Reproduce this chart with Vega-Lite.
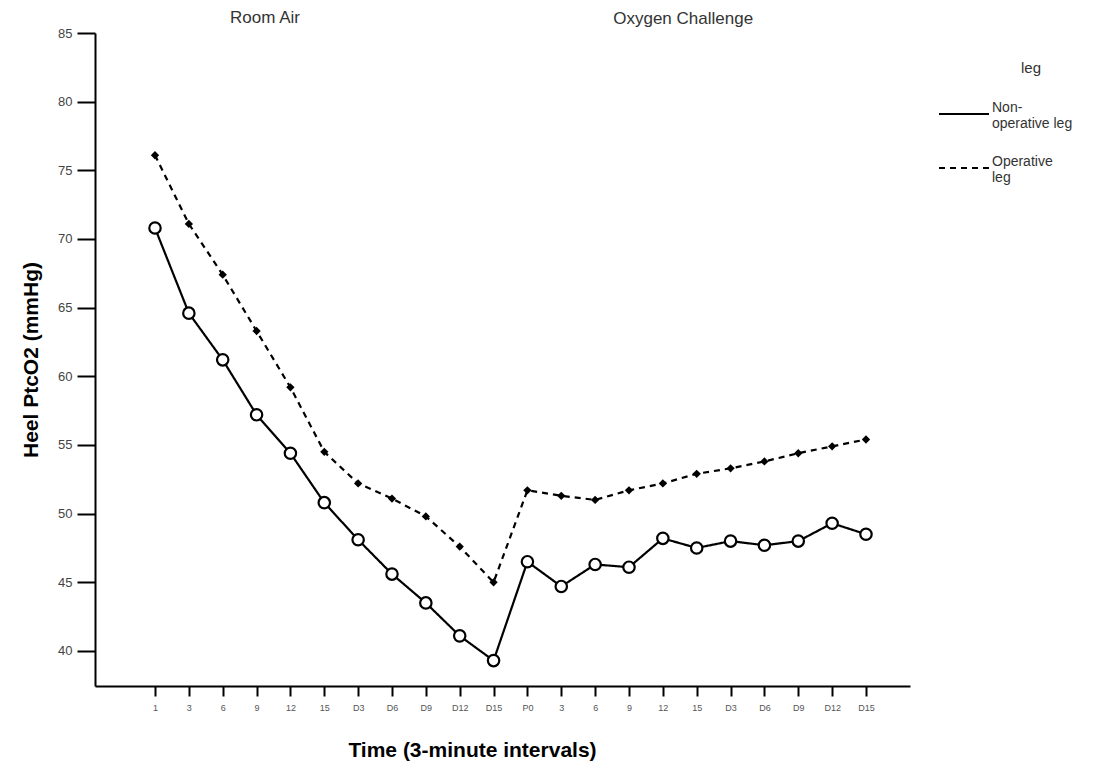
{
  "$schema": "https://vega.github.io/schema/vega-lite/v6.json",
  "autosize": {"type": "none"},
  "width": 815,
  "height": 653,
  "padding": {"left": 95, "top": 33, "right": 206, "bottom": 85},
  "background": "white",
  "config": {
    "view": {"stroke": null},
    "font": "Liberation Sans",
    "axis": {"grid": false, "domainColor": "black", "domainWidth": 2, "tickColor": "black", "tickWidth": 2}
  },
  "datasets": {
    "readings": [
      {"step": 1, "leg": "Non-operative leg", "ptco2": 70.8},
      {"step": 2, "leg": "Non-operative leg", "ptco2": 64.6},
      {"step": 3, "leg": "Non-operative leg", "ptco2": 61.2},
      {"step": 4, "leg": "Non-operative leg", "ptco2": 57.2},
      {"step": 5, "leg": "Non-operative leg", "ptco2": 54.4},
      {"step": 6, "leg": "Non-operative leg", "ptco2": 50.8},
      {"step": 7, "leg": "Non-operative leg", "ptco2": 48.1},
      {"step": 8, "leg": "Non-operative leg", "ptco2": 45.6},
      {"step": 9, "leg": "Non-operative leg", "ptco2": 43.5},
      {"step": 10, "leg": "Non-operative leg", "ptco2": 41.1},
      {"step": 11, "leg": "Non-operative leg", "ptco2": 39.3},
      {"step": 12, "leg": "Non-operative leg", "ptco2": 46.5},
      {"step": 13, "leg": "Non-operative leg", "ptco2": 44.7},
      {"step": 14, "leg": "Non-operative leg", "ptco2": 46.3},
      {"step": 15, "leg": "Non-operative leg", "ptco2": 46.1},
      {"step": 16, "leg": "Non-operative leg", "ptco2": 48.2},
      {"step": 17, "leg": "Non-operative leg", "ptco2": 47.5},
      {"step": 18, "leg": "Non-operative leg", "ptco2": 48.0},
      {"step": 19, "leg": "Non-operative leg", "ptco2": 47.7},
      {"step": 20, "leg": "Non-operative leg", "ptco2": 48.0},
      {"step": 21, "leg": "Non-operative leg", "ptco2": 49.3},
      {"step": 22, "leg": "Non-operative leg", "ptco2": 48.5},
      {"step": 1, "leg": "Operative leg", "ptco2": 76.1},
      {"step": 2, "leg": "Operative leg", "ptco2": 71.1},
      {"step": 3, "leg": "Operative leg", "ptco2": 67.4},
      {"step": 4, "leg": "Operative leg", "ptco2": 63.3},
      {"step": 5, "leg": "Operative leg", "ptco2": 59.2},
      {"step": 6, "leg": "Operative leg", "ptco2": 54.5},
      {"step": 7, "leg": "Operative leg", "ptco2": 52.2},
      {"step": 8, "leg": "Operative leg", "ptco2": 51.1},
      {"step": 9, "leg": "Operative leg", "ptco2": 49.8},
      {"step": 10, "leg": "Operative leg", "ptco2": 47.6},
      {"step": 11, "leg": "Operative leg", "ptco2": 45.0},
      {"step": 12, "leg": "Operative leg", "ptco2": 51.7},
      {"step": 13, "leg": "Operative leg", "ptco2": 51.3},
      {"step": 14, "leg": "Operative leg", "ptco2": 51.0},
      {"step": 15, "leg": "Operative leg", "ptco2": 51.7},
      {"step": 16, "leg": "Operative leg", "ptco2": 52.2},
      {"step": 17, "leg": "Operative leg", "ptco2": 52.9},
      {"step": 18, "leg": "Operative leg", "ptco2": 53.3},
      {"step": 19, "leg": "Operative leg", "ptco2": 53.8},
      {"step": 20, "leg": "Operative leg", "ptco2": 54.4},
      {"step": 21, "leg": "Operative leg", "ptco2": 54.9},
      {"step": 22, "leg": "Operative leg", "ptco2": 55.4}
    ],
    "phases": [
      {"step": 4.25, "ptco2": 86.1, "phase": "Room Air"},
      {"step": 16.6, "ptco2": 86.0, "phase": "Oxygen Challenge"}
    ]
  },
  "data": {"name": "readings"},
  "encoding": {
    "x": {
      "field": "step",
      "type": "quantitative",
      "scale": {"domain": [-0.772, 23.3], "nice": false, "zero": false},
      "axis": {
        "title": "Time (3-minute intervals)",
        "titleFont": "Liberation Sans",
        "titleFontSize": 21,
        "titleFontWeight": "bold",
        "titleColor": "black",
        "titleX": 377,
        "titlePadding": 27,
        "values": [1, 2, 3, 4, 5, 6, 7, 8, 9, 10, 11, 12, 13, 14, 15, 16, 17, 18, 19, 20, 21, 22],
        "labelExpr": "['1','3','6','9','12','15','D3','D6','D9','D12','D15','P0','3','6','9','12','15','D3','D6','D9','D12','D15'][datum.value - 1]",
        "labelFontSize": 9,
        "labelColor": "#555555",
        "labelPadding": 7,
        "tickSize": 10
      }
    },
    "y": {
      "field": "ptco2",
      "type": "quantitative",
      "scale": {"domain": [37.45, 85], "nice": false, "zero": false},
      "axis": {
        "title": "Heel PtcO2 (mmHg)",
        "titleFont": "Liberation Sans",
        "titleFontSize": 21,
        "titleFontWeight": "bold",
        "titleColor": "black",
        "titlePadding": 16,
        "values": [40, 45, 50, 55, 60, 65, 70, 75, 80, 85],
        "labelFontSize": 13,
        "labelColor": "#444444",
        "labelPadding": 5,
        "tickSize": 18
      }
    }
  },
  "layer": [
    {
      "mark": {"type": "line", "color": "black", "strokeWidth": 2.2},
      "encoding": {
        "strokeDash": {
          "field": "leg",
          "type": "nominal",
          "scale": {"domain": ["Non-operative leg", "Operative leg"], "range": [[1, 0], [6, 5]]},
          "legend": {
            "title": "leg",
            "orient": "none",
            "legendX": 843,
            "legendY": 28,
            "titleFont": "Liberation Sans",
            "titleFontSize": 15,
            "titleFontWeight": "normal",
            "titleColor": "#333333",
            "titleAnchor": "middle",
            "titlePadding": 12,
            "symbolType": "stroke",
            "symbolSize": 2500,
            "symbolStrokeWidth": 2,
            "symbolStrokeColor": "black",
            "labelFont": "Liberation Sans",
            "labelFontSize": 14,
            "labelColor": "#333333",
            "labelExpr": "datum.value == 'Non-operative leg' ? ['Non-', 'operative leg'] : ['Operative', 'leg']",
            "rowPadding": 11,
            "labelOffset": 2,
            "encode": {
              "labels": {"update": {"dy": {"value": -6}}},
              "title": {"update": {"dx": {"value": 26}}}
            }
          }
        }
      }
    },
    {
      "transform": [{"filter": "datum.leg == 'Non-operative leg'"}],
      "mark": {"type": "point", "shape": "circle", "size": 130, "filled": false, "fill": "white", "stroke": "black", "strokeWidth": 2.2, "opacity": 1}
    },
    {
      "transform": [{"filter": "datum.leg == 'Operative leg'"}],
      "mark": {"type": "point", "shape": "diamond", "size": 30, "filled": true, "fill": "black", "stroke": "black", "strokeWidth": 2, "opacity": 1}
    },
    {
      "data": {"name": "phases"},
      "mark": {"type": "text", "font": "Liberation Sans", "fontSize": 17, "color": "#333333", "align": "center", "baseline": "middle"},
      "encoding": {
        "text": {"field": "phase"}
      }
    }
  ]
}
